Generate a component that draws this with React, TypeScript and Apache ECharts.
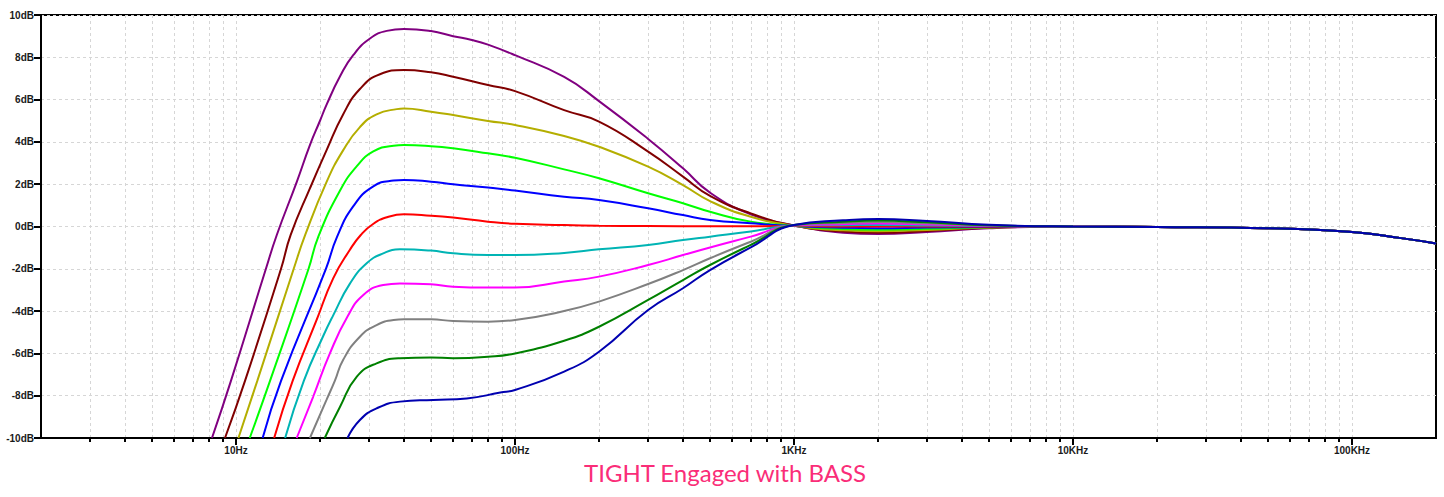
import React, { useEffect, useRef } from "react";
import * as echarts from "echarts";

// ---------- data (frequency in Hz, gain in dB) ----------
const traceNames = ["Bass 10", "Bass 9", "Bass 8", "Bass 7", "Bass 6", "Bass 5", "Bass 4", "Bass 3", "Bass 2", "Bass 1", "Bass 0"];
const traceColors = ["#800080", "#800000", "#b4ae00", "#00ff00", "#0000ff", "#ff0000", "#00b4b4", "#ff00ff", "#808080", "#008000", "#0000b0"];

const purple = [[8.2, -10], [9.59, -7.3], [12.8, -2], [14.0, -0.4], [16.5, 2.1], [18.4, 3.85], [20, 5.0], [21.1, 5.75], [23.6, 7.1], [26.3, 8.1], [30.3, 8.9], [34.7, 9.25], [40, 9.34], [50, 9.24], [60, 9.0], [70, 8.82], [80, 8.6], [100, 8.1], [150, 7.07], [200, 5.93], [300, 4.14], [400, 2.75], [500, 1.6], [700, 0.58], [1000, 0.05], [1500, -0.29], [2000, -0.36], [3000, -0.26], [5000, -0.08]];
const darkRed = [[9.13, -10], [10.77, -7.3], [14.5, -2], [15.7, -0.4], [18.4, 1.8], [21.1, 3.6], [24.2, 5.3], [27.8, 6.5], [32.8, 7.2], [40, 7.4], [50, 7.29], [60, 7.08], [80, 6.69], [100, 6.4], [150, 5.5], [200, 4.96], [300, 3.54], [400, 2.36], [500, 1.45], [700, 0.62], [1000, 0.05], [1500, -0.24], [2000, -0.3], [3000, -0.21], [5000, -0.06]];
const olive = [[10.2, -10], [11.92, -7.3], [16.1, -2], [17.7, -0.4], [21.1, 2.1], [24.2, 3.6], [27.8, 4.7], [31.9, 5.3], [37.7, 5.55], [40, 5.58], [50, 5.43], [60, 5.27], [80, 4.99], [100, 4.8], [150, 4.28], [200, 3.77], [300, 2.83], [400, 1.96], [500, 1.2], [700, 0.46], [1000, 0.04], [1500, -0.18], [2000, -0.22], [3000, -0.16], [5000, -0.05]];
const green = [[11.2, -10], [13.24, -7.3], [18.2, -2], [19.7, -0.5], [23.6, 1.7], [27.1, 2.85], [31.05, 3.55], [36.7, 3.82], [40, 3.85], [50, 3.8], [60, 3.7], [80, 3.46], [100, 3.25], [150, 2.7], [200, 2.28], [300, 1.57], [400, 1.1], [500, 0.7], [700, 0.23], [1000, 0.03], [1500, -0.12], [2000, -0.15], [3000, -0.11], [5000, -0.03]];
const blue = [[12.46, -10], [14.5, -7.3], [21.0, -2], [23.0, -0.5], [26.3, 0.95], [31.05, 1.9], [36.7, 2.17], [40, 2.2], [50, 2.12], [60, 2.0], [80, 1.84], [100, 1.7], [150, 1.41], [200, 1.25], [300, 0.86], [400, 0.54], [500, 0.31], [700, 0.15], [1000, 0.02], [1500, -0.06], [2000, -0.08], [3000, -0.05], [5000, -0.02]];
const red = [[13.7, -10], [15.96, -7.3], [19.45, -4.42], [22.3, -2.45], [25.6, -1.1], [28, -0.4], [31, 0.12], [35, 0.45], [40, 0.58], [50, 0.51], [60, 0.42], [80, 0.23], [100, 0.13], [150, 0.07], [200, 0.04], [300, 0.02], [500, 0.01], [1000, 0.02], [1500, 0.0], [2000, 0.0], [3000, 0.0], [5000, 0.0]];
const cyan = [[15.0, -10], [17.5, -7.3], [20.5, -5.2], [22.3, -4.2], [25.6, -2.7], [29.4, -1.74], [33.7, -1.27], [38.7, -1.08], [50, -1.14], [60, -1.27], [80, -1.35], [100, -1.35], [150, -1.25], [200, -1.08], [300, -0.87], [400, -0.64], [500, -0.48], [700, -0.24], [1000, 0.05], [1500, 0.06], [2000, 0.07], [3000, 0.05], [5000, 0.02]];
const magenta = [[16.5, -10], [18.9, -8.05], [21.7, -6.0], [25.1, -4.26], [28.6, -3.24], [33.7, -2.77], [38.7, -2.69], [50, -2.73], [60, -2.85], [80, -2.89], [100, -2.89], [150, -2.6], [200, -2.37], [300, -1.82], [400, -1.35], [500, -0.99], [700, -0.48], [1000, 0.06], [1500, 0.11], [2000, 0.14], [3000, 0.1], [5000, 0.03]];
const gray = [[18.4, -10], [21.1, -8.2], [22.6, -7.3], [24.2, -6.31], [27.8, -5.21], [31.9, -4.66], [36.7, -4.42], [40, -4.39], [50, -4.39], [60, -4.47], [80, -4.5], [100, -4.42], [150, -4.0], [200, -3.55], [300, -2.72], [400, -2.06], [500, -1.5], [700, -0.72], [1000, 0.07], [1500, 0.17], [2000, 0.21], [3000, 0.15], [5000, 0.05]];
const darkGreen = [[20.8, -10], [23.6, -8.52], [27.1, -7.1], [31.9, -6.47], [38.7, -6.23], [50, -6.19], [60, -6.23], [80, -6.16], [100, -6.0], [150, -5.4], [200, -4.74], [300, -3.47], [400, -2.53], [500, -1.82], [700, -0.87], [1000, 0.07], [1500, 0.22], [2000, 0.28], [3000, 0.2], [5000, 0.06]];
const navy = [[25.1, -10], [27.8, -9.15], [31.9, -8.6], [38.7, -8.28], [50.9, -8.2], [67.1, -8.13], [88.6, -7.85], [100, -7.73], [150, -6.86], [200, -5.92], [300, -3.95], [400, -2.92], [500, -2.06], [700, -0.99], [1000, 0.07], [1500, 0.29], [2000, 0.36], [3000, 0.26], [5000, 0.08]];

const highFreqTail = [[10000, 0.0], [20000, -0.02], [50000, -0.08], [100000, -0.26], [150000, -0.55], [200000, -0.8]];

const traces = [purple, darkRed, olive, green, blue, red, cyan, magenta, gray, darkGreen, navy];

// ---------- axes ----------
const xMin = 2;
const xMax = 200000;
const xMajorTicks = [10, 100, 1000, 10000, 100000];
const xMajorLabels = ["10Hz", "100Hz", "1KHz", "10KHz", "100KHz"];
const decades = [1, 10, 100, 1000, 10000, 100000];
const mantissas = [1, 2, 3, 4, 5, 6, 7, 8, 9];
const yMin = -10;
const yMax = 10;
const yStep = 2;
const titleText = "TIGHT Engaged with BASS";

const gridFreqs = decades
  .flatMap((d) => mantissas.map((m) => m * d))
  .filter((f) => f > xMin && f < xMax);

const labelFont = {
  color: "#1a1a1a",
  fontSize: 10,
  fontWeight: "bold" as const,
  fontFamily: "'Liberation Sans', Arial, sans-serif",
};

function xLabel(v: number): string {
  const i = xMajorTicks.findIndex((t) => Math.abs(t - v) / t < 1e-6);
  return i >= 0 ? xMajorLabels[i] : "";
}

export default function App() {
  const ref = useRef<HTMLDivElement>(null);

  useEffect(() => {
    if (!ref.current) return;
    const chart = echarts.init(ref.current, undefined, { renderer: "svg" });
    const gridLine = { color: "#d6d6d6", type: [3, 3] as number[], width: 1 };

    chart.setOption({
      animation: false,
      backgroundColor: "#ffffff",
      grid: {
        left: 41,
        right: 8,
        top: 15,
        bottom: 59,
        show: true,
        borderColor: "#000",
        borderWidth: 2,
        backgroundColor: "transparent",
      },
      xAxis: [
        {
          type: "log",
          logBase: 10,
          min: xMin,
          max: xMax,
          position: "bottom",
          axisLine: { show: true, onZero: false, lineStyle: { color: "#000", width: 2 } },
          axisTick: {
            show: true,
            inside: false,
            length: 4,
            customValues: gridFreqs,
            lineStyle: { color: "#000", width: 2 },
          },
          axisLabel: {
            show: true,
            customValues: xMajorTicks,
            formatter: (v: number) => xLabel(v),
            margin: 7,
            ...labelFont,
          },
          splitLine: { show: true, lineStyle: gridLine },
          minorTick: { show: false },
          minorSplitLine: { show: false },
        },
        {
          type: "log",
          logBase: 10,
          min: xMin,
          max: xMax,
          position: "bottom",
          axisLine: { show: false, onZero: false },
          axisTick: {
            show: true,
            inside: false,
            length: 7,
            customValues: xMajorTicks,
            lineStyle: { color: "#000", width: 2 },
          },
          axisLabel: { show: false },
          splitLine: { show: false },
        },
      ],
      yAxis: {
        type: "value",
        min: yMin,
        max: yMax,
        interval: yStep,
        axisLine: { show: true, onZero: false, lineStyle: { color: "#000", width: 2 } },
        axisTick: { show: true, inside: false, length: 7, lineStyle: { color: "#000", width: 2 } },
        axisLabel: {
          formatter: (v: number) => `${v}dB`,
          margin: 7,
          ...labelFont,
        },
        splitLine: { show: true, lineStyle: gridLine },
      },
      series: traces.map((t, i) => ({
        name: traceNames[i],
        type: "line",
        xAxisIndex: 0,
        yAxisIndex: 0,
        data: [...t, ...highFreqTail],
        showSymbol: false,
        symbol: "none",
        smooth: 0.5,
        clip: true,
        lineStyle: { color: traceColors[i], width: 2 },
        itemStyle: { color: traceColors[i] },
        emphasis: { disabled: true },
      })),
      graphic: [
        {
          type: "text",
          x: 725,
          y: 472,
          style: {
            text: titleText,
            fill: "#fa2d78",
            font: "24px Lato, 'Open Sans', sans-serif",
            align: "center",
            verticalAlign: "middle",
          },
        },
      ],
    });

    return () => chart.dispose();
  }, []);

  return (
    <div
      ref={ref}
      style={{ position: "absolute", left: 0, top: 0, width: 1444, height: 497, background: "#fff" }}
    />
  );
}
